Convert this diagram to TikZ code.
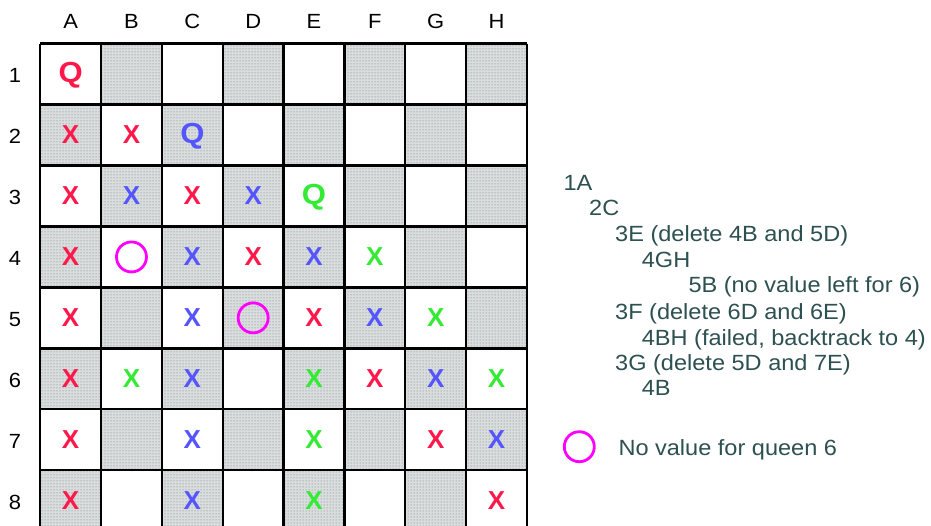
\documentclass[tikz,border=0pt]{standalone}
\usepackage{fontspec}
\setmainfont{Liberation Sans}
\usetikzlibrary{patterns}
\definecolor{qred}{RGB}{255,25,75}
\definecolor{qblue}{RGB}{85,85,255}
\definecolor{qgreen}{RGB}{50,235,50}
\definecolor{txt}{RGB}{45,80,80}
\definecolor{ring}{RGB}{255,0,255}
\definecolor{shadebg}{RGB}{218,221,221}
\definecolor{shadedot}{RGB}{100,120,120}
\newcommand{\cx}[1]{40.2+60.85*(#1-0.5)}
\newcommand{\cy}[1]{43.6+60.95*(#1-0.5)}
\tikzset{
  shadecell/.style={fill=shadebg},
  dotcell/.style={pattern=dots, pattern color=shadedot},
  gridline/.style={line width=2.3pt, black},
  lbl/.style={font=\fontsize{20.5}{22}\selectfont, text=black, inner sep=0pt},
  queen/.style={font=\fontsize{29}{31}\selectfont\bfseries, inner sep=0pt},
  xmark/.style={font=\fontsize{26}{28}\selectfont\bfseries, inner sep=0pt},
  nomark/.style={draw=ring, line width=2.8pt, circle, minimum size=30pt, inner sep=0pt},
  note/.style={font=\fontsize{22}{24}\selectfont, text=txt, anchor=base west, inner sep=0pt},
}
\newcommand{\wide}[1]{\scalebox{1.07}[1]{#1}}
\begin{document}
\begin{tikzpicture}[x=1pt,y=-1pt]
\useasboundingbox (0,0) rectangle (931,526);
\clip (0,0) rectangle (931,526);
\fill[white] (0,0) rectangle (931,526);
% shaded squares
\foreach \c in {1,...,8} {
  \foreach \r in {1,...,8} {
    \pgfmathtruncatemacro{\s}{\c+\r}
    \ifodd\s
      \fill[shadecell] ({40.2+60.85*(\c-1)},{43.6+60.95*(\r-1)}) rectangle ++(60.85,60.95);
      \fill[dotcell] ({40.2+60.85*(\c-1)},{43.6+60.95*(\r-1)}) rectangle ++(60.85,60.95);
    \fi
  }
}
% grid
\foreach \i in {0,...,8} {
  \draw[gridline] ({40.2+60.85*\i},43.6) -- ({40.2+60.85*\i},{43.6+60.95*8});
  \draw[gridline] (40.2,{43.6+60.95*\i}) -- ({40.2+60.85*8},{43.6+60.95*\i});
}
% column labels
\foreach \c/\l in {1/A,2/B,3/C,4/D,5/E,6/F,7/G,8/H}
  \node[lbl] (col\l) at ({\cx{\c}},21.5) {\wide{\l}};
% row labels
\foreach \r in {1,...,8}
  \node[lbl] (row\r) at (15,{\cy{\r}+1.5}) {\wide{\r}};
% queens
\foreach \c/\r/\k in {1/1/qred,3/2/qblue,5/3/qgreen}
  \node[queen, text=\k] (q\r) at ({\cx{\c}},{\cy{\r}+1}) {\wide{Q}};
% crossed-out squares
\foreach \c/\r/\k in {
  1/2/qred,2/2/qred,
  1/3/qred,2/3/qblue,3/3/qred,4/3/qblue,
  1/4/qred,3/4/qblue,4/4/qred,5/4/qblue,6/4/qgreen,
  1/5/qred,3/5/qblue,5/5/qred,6/5/qblue,7/5/qgreen,
  1/6/qred,2/6/qgreen,3/6/qblue,5/6/qgreen,6/6/qred,7/6/qblue,8/6/qgreen,
  1/7/qred,3/7/qblue,5/7/qgreen,7/7/qred,8/7/qblue,
  1/8/qred,3/8/qblue,5/8/qgreen,8/8/qred}
  \node[xmark, text=\k] (x\c\r) at ({\cx{\c}},{\cy{\r}}) {X};
% no-value circles
\node[nomark] (c4B) at ({\cx{2}},{\cy{4}}) {};
\node[nomark] (c5D) at ({\cx{4}},{\cy{5}}) {};
% notes
\node[note] (n1) at (563.3,190.7) {\wide{1A}};
\node[note] (n2) at (589,216) {\wide{2C}};
\node[note] (n3) at (615,241.7) {\wide{3E (delete 4B and 5D)}};
\node[note] (n4) at (641.7,267.3) {\wide{4GH}};
\node[note] (n5) at (688.3,293) {\wide{5B (no value left for 6)}};
\node[note] (n6) at (615,319.5) {\wide{3F (delete 6D and 6E)}};
\node[note] (n7) at (641.7,345) {\wide{4BH (failed, backtrack to 4)}};
\node[note] (n8) at (615,370.5) {\wide{3G (delete 5D and 7E)}};
\node[note] (n9) at (641.7,395.7) {\wide{4B}};
% legend
\node[nomark] (leg) at (579.3,446.7) {};
\node[note] (legt) at (618.3,455) {\wide{No value for queen 6}};
\end{tikzpicture}
\end{document}
